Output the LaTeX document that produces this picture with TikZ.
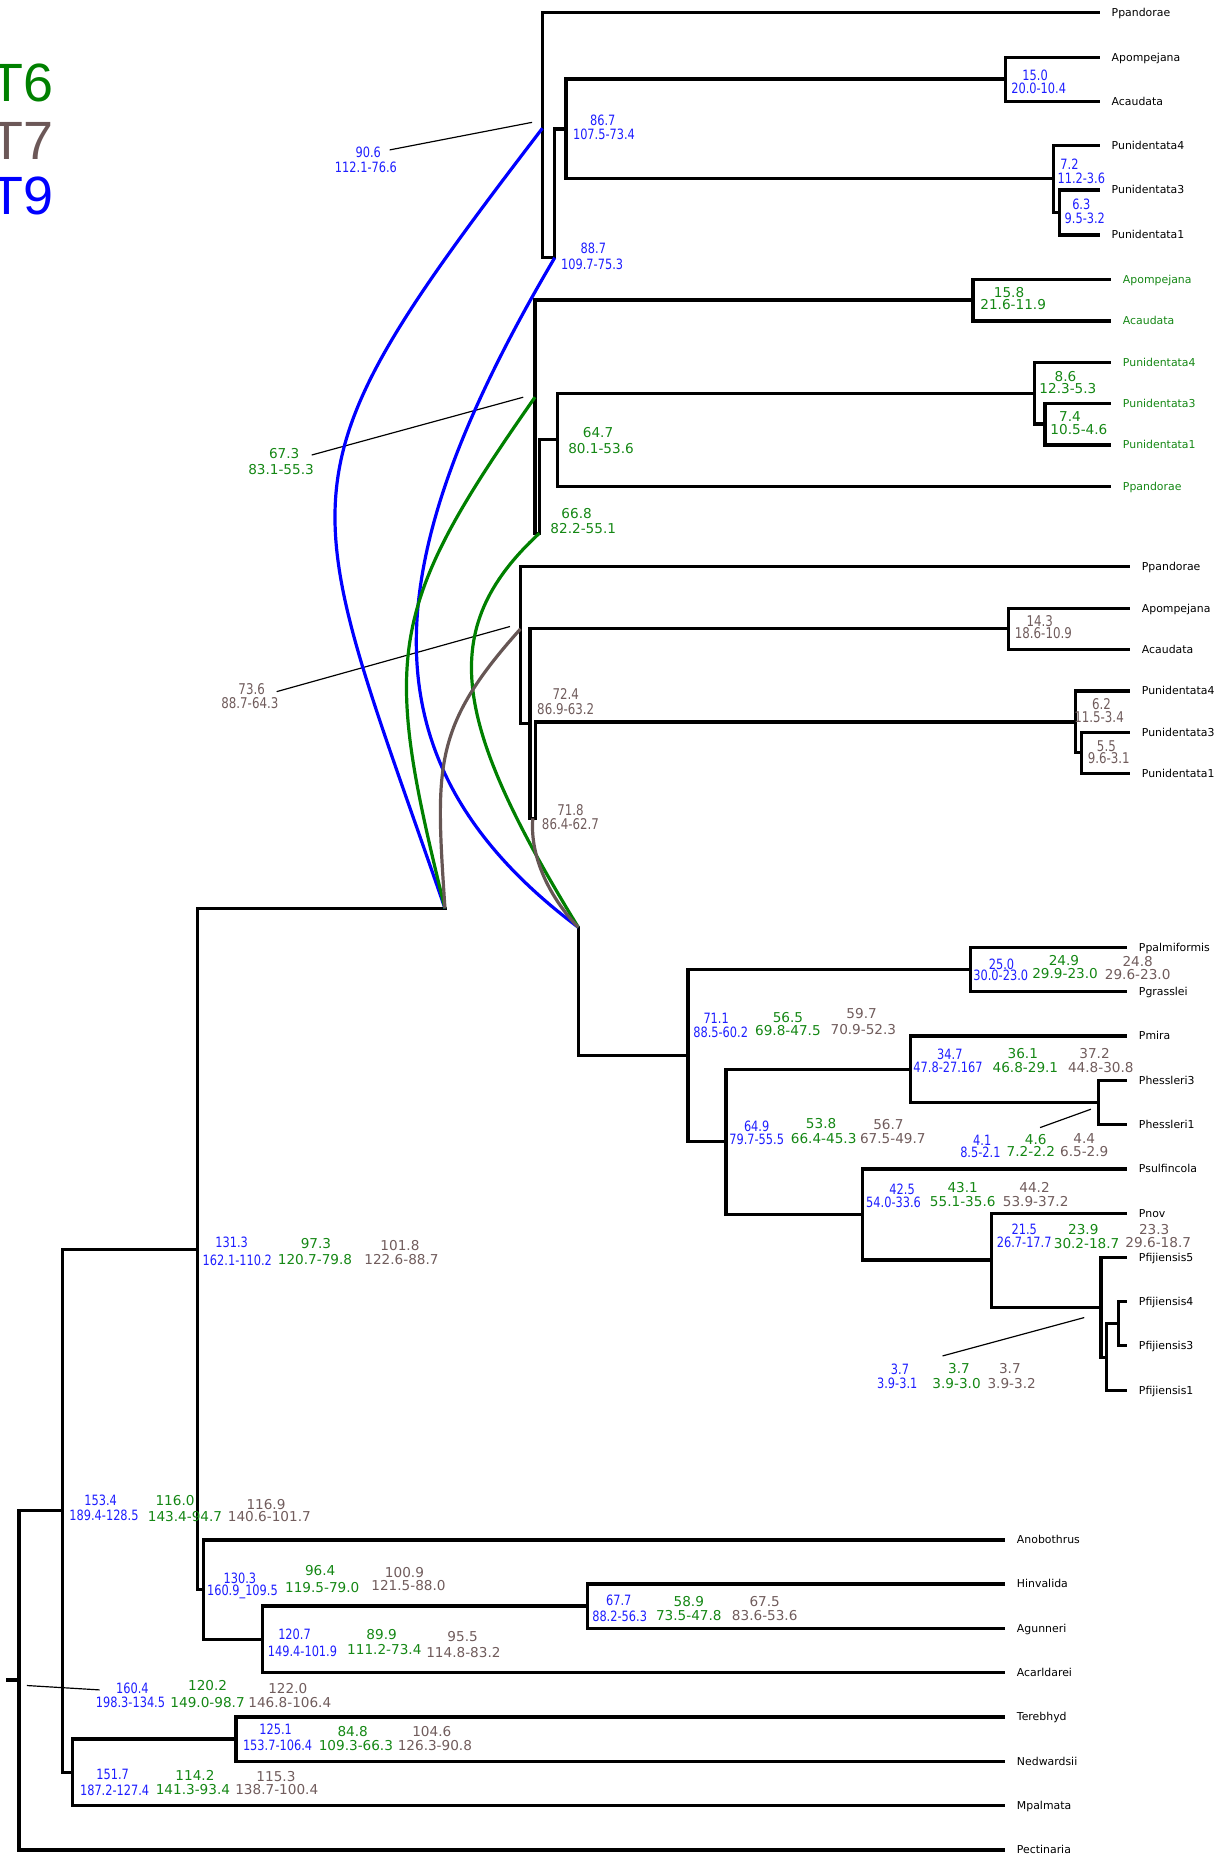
\documentclass[tikz,border=0pt]{standalone}
\usepackage{fontspec}
\setmainfont{DejaVu Sans}
\newfontfamily\condf[FakeStretch=0.8]{DejaVu Sans}
\newfontfamily\legf{Liberation Sans}
\definecolor{labblue}{RGB}{30,30,255}
\definecolor{labgreen}{RGB}{20,135,20}
\definecolor{labbrown}{RGB}{112,92,92}
\definecolor{cblue}{RGB}{0,0,255}
\definecolor{cgreen}{RGB}{0,128,0}
\definecolor{cbrown}{RGB}{102,86,84}
\definecolor{legbrown}{RGB}{108,88,88}
\tikzset{
  branch/.style={line width=2.8pt, line cap=rect, line join=miter},
  leader/.style={line width=1pt},
  hcurve/.style={line width=2.7pt},
  bl/.style={text=labblue, font=\condf\fontsize{12}{12}\selectfont, inner sep=0pt, text height=8.7pt, text depth=0pt},
  gr/.style={text=labgreen, font=\fontsize{11.5}{12}\selectfont, inner sep=0pt, text height=8.4pt, text depth=0pt},
  brn/.style={text=labbrown, font=\fontsize{11.5}{12}\selectfont, inner sep=0pt, text height=8.4pt, text depth=0pt},
  brc/.style={text=labbrown, font=\condf\fontsize{12.5}{12}\selectfont, inner sep=0pt, text height=9.1pt, text depth=0pt},
  taxon/.style={anchor=base west, inner sep=0pt, font=\fontsize{9.2}{9.5}\selectfont},
  legend/.style={anchor=base west, inner sep=0pt, font=\legf\fontsize{45.5}{46}\selectfont},
}
\begin{document}
\begin{tikzpicture}[x=1pt,y=-1pt]
\useasboundingbox (0,0) rectangle (1036,1568);

% ---------- legend ----------
\node[legend, text=cgreen] (legT6) at (-8,86) {T6};
\node[legend, text=legbrown] (legT7) at (-8,135) {T7};
\node[legend, text=cblue] (legT9) at (-8,181.5) {T9};

% ---------- T9 tree ----------
\coordinate (l9pp) at (927.5,10.7);
\coordinate (l9ap) at (927.5,48.4);
\coordinate (l9ac) at (927.5,85.8);
\coordinate (l9u4) at (927.5,123);
\coordinate (l9u3) at (927.5,160.4);
\coordinate (l9u1) at (927.5,198.4);
\coordinate (n9a) at (849,66.7);
\coordinate (n9b) at (889.4,151);
\coordinate (n9c) at (894.7,179.4);
\coordinate (c9) at (478,108.8);
\coordinate (m9) at (468.4,108.8);
\coordinate (s9) at (468.4,217.6);
\coordinate (r9) at (458,217.6);
\coordinate (e9o) at (458,108.3);
\draw[branch] (l9pp) -| (r9) -- (s9) -- (m9) -- (c9);
\draw[branch] (l9ap) -| (n9a) |- (l9ac);
\draw[branch] (n9a) -| (c9);
\draw[branch] (n9b) -| (c9);
\draw[branch] (l9u4) -| (n9b) |- (n9c);
\draw[branch] (l9u3) -| (n9c) |- (l9u1);
\node[taxon] (t9pp) at (938.5,14) {Ppandorae};
\node[taxon] (t9ap) at (938.5,51.7) {Apompejana};
\node[taxon] (t9ac) at (938.5,89.1) {Acaudata};
\node[taxon] (t9u4) at (938.5,126.3) {Punidentata4};
\node[taxon] (t9u3) at (938.5,163.7) {Punidentata3};
\node[taxon] (t9u1) at (938.5,201.7) {Punidentata1};
\node[bl] (b150) at (874,64) {15.0};
\node[bl] (b150r) at (877,74.6) {20.0-10.4};
\node[bl] (b867) at (509,102) {86.7};
\node[bl] (b867r) at (510,113.5) {107.5-73.4};
\node[bl] (b72) at (903,138.5) {7.2};
\node[bl] (b72r) at (913,151) {11.2-3.6};
\node[bl] (b63) at (913,172.5) {6.3};
\node[bl] (b63r) at (916,184.3) {9.5-3.2};
\node[bl] (b906) at (311,129) {90.6};
\node[bl] (b906r) at (309,141.5) {112.1-76.6};
\node[bl] (b887) at (501,210) {88.7};
\node[bl] (b887r) at (500,223.5) {109.7-75.3};
\coordinate (k906a) at (329,126.6);
\coordinate (k906b) at (449.3,103.3);
\draw[leader] (k906a) -- (k906b);

% ---------- T6 tree ----------
\coordinate (l6ap) at (937,235.8);
\coordinate (l6ac) at (937,271);
\coordinate (l6u4) at (937,306);
\coordinate (l6u3) at (937,340.5);
\coordinate (l6u1) at (937,375.7);
\coordinate (l6pp) at (937,411);
\coordinate (n6a) at (821.6,253.3);
\coordinate (n6b) at (873.4,332);
\coordinate (n6c) at (882.4,358.1);
\coordinate (n6d) at (470.6,371);
\coordinate (m6) at (455.4,371);
\coordinate (s6) at (455.4,450.3);
\coordinate (r6) at (451.7,450.3);
\coordinate (e6o) at (451.7,335.4);
\draw[branch] (l6ap) -| (n6a) |- (l6ac);
\draw[branch] (n6a) -| (r6) -- (s6) -- (m6) -- (n6d);
\draw[branch] (l6pp) -| (n6d) |- (n6b);
\draw[branch] (l6u4) -| (n6b) |- (n6c);
\draw[branch] (l6u3) -| (n6c) |- (l6u1);
\begin{scope}[every node/.append style={text=labgreen}]
\node[taxon] (t6ap) at (948,239.1) {Apompejana};
\node[taxon] (t6ac) at (948,274.3) {Acaudata};
\node[taxon] (t6u4) at (948,309.3) {Punidentata4};
\node[taxon] (t6u3) at (948,343.8) {Punidentata3};
\node[taxon] (t6u1) at (948,379) {Punidentata1};
\node[taxon] (t6pp) at (948,414.3) {Ppandorae};
\end{scope}
\node[gr] (g158) at (852,247) {15.8};
\node[gr] (g158r) at (855.5,257.5) {21.6-11.9};
\node[gr] (g86) at (899.6,318) {8.6};
\node[gr] (g86r) at (901.7,328.4) {12.3-5.3};
\node[gr] (g74) at (903.4,351.8) {7.4};
\node[gr] (g74r) at (911,362.5) {10.5-4.6};
\node[gr] (g647) at (505,365) {64.7};
\node[gr] (g647r) at (507.5,378.5) {80.1-53.6};
\node[gr] (g673) at (240,383.3) {67.3};
\node[gr] (g673r) at (237.3,396.8) {83.1-55.3};
\node[gr] (g668) at (486.9,434) {66.8};
\node[gr] (g668r) at (492.5,446) {82.2-55.1};
\coordinate (k673a) at (263.2,384.2);
\coordinate (k673b) at (441.8,335.4);
\draw[leader] (k673a) -- (k673b);

% ---------- T7 tree ----------
\coordinate (l7pp) at (952.4,478.4);
\coordinate (l7ap) at (952.4,513.6);
\coordinate (l7ac) at (952.4,548.2);
\coordinate (l7u4) at (952.4,583.4);
\coordinate (l7u3) at (952.4,618.3);
\coordinate (l7u1) at (952.4,653);
\coordinate (n7a) at (851.7,530.9);
\coordinate (n7b) at (908,609.5);
\coordinate (n7c) at (913.3,635.65);
\coordinate (r7) at (439.5,610.7);
\coordinate (s7) at (447.5,610.7);
\coordinate (b7) at (447.5,691);
\coordinate (q7) at (452.3,691);
\coordinate (b7m) at (449.9,691);
\coordinate (e7o) at (439.5,531);
\draw[branch] (l7pp) -| (r7) -- (s7);
\draw[branch] (n7a) -| (b7) -- (q7) |- (n7b);
\draw[branch] (l7ap) -| (n7a) |- (l7ac);
\draw[branch] (l7u4) -| (n7b) |- (n7c);
\draw[branch] (l7u3) -| (n7c) |- (l7u1);
\node[taxon] (t7pp) at (964,481.7) {Ppandorae};
\node[taxon] (t7ap) at (964,516.9) {Apompejana};
\node[taxon] (t7ac) at (964,551.5) {Acaudata};
\node[taxon] (t7u4) at (964,586.7) {Punidentata4};
\node[taxon] (t7u3) at (964,621.6) {Punidentata3};
\node[taxon] (t7u1) at (964,656.3) {Punidentata1};
\node[brc] (r143) at (878,524.3) {14.3};
\node[brc] (r143r) at (881,534.7) {18.6-10.9};
\node[brc] (r62) at (930,594.4) {6.2};
\node[brc] (r62r) at (928,605.1) {11.5-3.4};
\node[brc] (r55) at (934.2,629.6) {5.5};
\node[brc] (r55r) at (936.2,640.3) {9.6-3.1};
\node[brc] (r724) at (477.7,586) {72.4};
\node[brc] (r724r) at (477.7,598.9) {86.9-63.2};
\node[brc] (r718) at (481.7,683.9) {71.8};
\node[brc] (r718r) at (481.7,695.7) {86.4-62.7};
\node[brc] (r736) at (212.5,581.7) {73.6};
\node[brc] (r736r) at (211,593.3) {88.7-64.3};
\coordinate (k736a) at (233.6,584);
\coordinate (k736b) at (430.6,529);
\draw[leader] (k736a) -- (k736b);

% ---------- main tree ----------
\coordinate (j1) at (375.7,767);
\coordinate (j2) at (488.3,783);
\coordinate (rt) at (16,1275.5);
\coordinate (h1534) at (52.5,1275.5);
\coordinate (t1534) at (52.5,1054.8);
\coordinate (b1534) at (52.5,1496.7);
\coordinate (n1313h) at (166.6,1054.8);
\coordinate (a1313) at (166.6,1341.9);
\coordinate (n1303m) at (171.9,1341.9);
\coordinate (n1207m) at (221.4,1384.1);
\coordinate (n677m) at (495.8,1356.1);
\coordinate (n1517h) at (61.1,1496.7);
\coordinate (n1251m) at (199.3,1468.4);
\coordinate (stub) at (6.7,1418.4);
\coordinate (stubr) at (16,1418.4);
\coordinate (lano) at (847,1300.2);
\coordinate (lhin) at (847,1337.4);
\coordinate (lagu) at (847,1374.8);
\coordinate (lacar) at (847,1412.2);
\coordinate (lter) at (847,1449.7);
\coordinate (lned) at (847,1487.1);
\coordinate (lmpa) at (847,1524.5);
\coordinate (lpec) at (847,1562);

\draw[branch] (lpec) -| (rt) -- (h1534);
\draw[branch] (stub) -- (stubr);
\draw[branch] (n1313h) -- (t1534) -- (b1534) -- (n1517h);
\draw[branch] (j1) -| (a1313) -- (n1303m);
\draw[branch] (lano) -| (n1303m) |- (n1207m);
\draw[branch] (lacar) -| (n1207m) |- (n677m);
\draw[branch] (lhin) -| (n677m) |- (lagu);
\draw[branch] (lmpa) -| (n1517h) |- (n1251m);
\draw[branch] (lter) -| (n1251m) |- (lned);

\coordinate (p0) at (488.3,891.3);
\coordinate (n711m) at (580.8,891.3);
\coordinate (n250m) at (819.2,818.55);
\coordinate (n649m) at (613.1,963.9);
\coordinate (n347m) at (768.8,902.8);
\coordinate (n425m) at (728.4,1025.4);
\coordinate (nphm) at (927.3,931);
\coordinate (n215m) at (837.3,1063.8);
\coordinate (nfaM) at (929.6,1103.95);
\coordinate (nfbM) at (934.4,1146.3);
\coordinate (nfcM) at (944.2,1117.6);
\coordinate (lppa) at (949.8,799.8);
\coordinate (lpgr) at (949.8,837.3);
\coordinate (lpmi) at (949.8,874.7);
\coordinate (lph3) at (949.8,912.4);
\coordinate (lph1) at (949.8,949.6);
\coordinate (lpsu) at (949.8,987);
\coordinate (lpno) at (949.8,1024.4);
\coordinate (lpf5) at (949.8,1061.6);
\coordinate (lpf4) at (949.8,1099);
\coordinate (lpf3) at (949.8,1136.2);
\coordinate (lpf1) at (949.8,1174.2);

\draw[branch] (j2) -- (p0) -- (n711m);
\draw[branch] (lppa) -| (n250m) |- (lpgr);
\draw[branch] (n250m) -| (n711m) |- (n649m);
\draw[branch] (n347m) -| (n649m) |- (n425m);
\draw[branch] (lpmi) -| (n347m) |- (nphm);
\draw[branch] (lph3) -| (nphm) |- (lph1);
\draw[branch] (lpsu) -| (n425m) |- (n215m);
\draw[branch] (lpno) -| (n215m) |- (nfaM);
\draw[branch] (lpf5) -| (nfaM) |- (nfbM);
\draw[branch] (nfcM) -| (nfbM) |- (lpf1);
\draw[branch] (lpf4) -| (nfcM) |- (lpf3);

\node[taxon] (tppa) at (961.5,803.1) {Ppalmiformis};
\node[taxon] (tpgr) at (961.5,840.6) {Pgrasslei};
\node[taxon] (tpmi) at (961.5,878) {Pmira};
\node[taxon] (tph3) at (961.5,915.7) {Phessleri3};
\node[taxon] (tph1) at (961.5,952.9) {Phessleri1};
\node[taxon] (tpsu) at (961.5,990.3) {Psulfincola};
\node[taxon] (tpno) at (961.5,1027.7) {Pnov};
\node[taxon] (tpf5) at (961.5,1064.9) {Pfijiensis5};
\node[taxon] (tpf4) at (961.5,1102.3) {Pfijiensis4};
\node[taxon] (tpf3) at (961.5,1139.5) {Pfijiensis3};
\node[taxon] (tpf1) at (961.5,1177.5) {Pfijiensis1};
\node[taxon] (tano) at (858.5,1303.5) {Anobothrus};
\node[taxon] (thin) at (858.5,1340.7) {Hinvalida};
\node[taxon] (tagu) at (858.5,1378.1) {Agunneri};
\node[taxon] (tacar) at (858.5,1415.5) {Acarldarei};
\node[taxon] (tter) at (858.5,1453) {Terebhyd};
\node[taxon] (tned) at (858.5,1490.4) {Nedwardsii};
\node[taxon] (tmpa) at (858.5,1527.8) {Mpalmata};
\node[taxon] (tpec) at (858.5,1565.3) {Pectinaria};

% node ages: T9 / T6 / T7
\node[bl] at (845.6,813.9) {25.0};
\node[bl] at (845,823.2) {30.0-23.0};
\node[gr] at (898.4,811.4) {24.9};
\node[gr] at (899.3,822.4) {29.9-23.0};
\node[brn] at (960.6,812) {24.8};
\node[brn] at (960.6,823.2) {29.6-23.0};

\node[bl] at (604.7,859.8) {71.1};
\node[bl] at (608.5,871.9) {88.5-60.2};
\node[gr] at (665.3,858.9) {56.5};
\node[gr] at (665.3,870.5) {69.8-47.5};
\node[brn] at (727.5,855.5) {59.7};
\node[brn] at (729,869.6) {70.9-52.3};

\node[bl] at (802,889.9) {34.7};
\node[bl] at (800.5,901.4) {47.8-27.167};
\node[gr] at (863.6,889.9) {36.1};
\node[gr] at (865.8,901.4) {46.8-29.1};
\node[brn] at (924.2,889.9) {37.2};
\node[brn] at (929.5,901.4) {44.8-30.8};

\node[bl] at (638.9,951.3) {64.9};
\node[bl] at (638.9,961.7) {79.7-55.5};
\node[gr] at (693.3,949) {53.8};
\node[gr] at (695.5,961.7) {66.4-45.3};
\node[brn] at (750.2,949.8) {56.7};
\node[brn] at (753.9,961.7) {67.5-49.7};

\node[bl] at (829.4,962.5) {4.1};
\node[bl] at (827.8,972.9) {8.5-2.1};
\node[gr] at (874.5,961.8) {4.6};
\node[gr] at (870.4,972.5) {7.2-2.2};
\node[brn] at (915.5,961) {4.4};
\node[brn] at (915.5,972.5) {6.5-2.9};
\coordinate (kphA) at (878.2,952.1);
\coordinate (kphB) at (921.1,936.6);
\draw[leader] (kphA) -- (kphB);

\node[bl] at (761.7,1004.2) {42.5};
\node[bl] at (754.5,1015.4) {54.0-33.6};
\node[gr] at (812.9,1002.5) {43.1};
\node[gr] at (812.9,1014.6) {55.1-35.6};
\node[brn] at (873.5,1003) {44.2};
\node[brn] at (874.5,1014.6) {53.9-37.2};

\node[bl] at (864.8,1037.9) {21.5};
\node[bl] at (864.8,1049.2) {26.7-17.7};
\node[gr] at (914.7,1037.9) {23.9};
\node[gr] at (917.5,1049.7) {30.2-18.7};
\node[brn] at (974.6,1037.9) {23.3};
\node[brn] at (978,1049.2) {29.6-18.7};

\node[bl] at (759.9,1156.1) {3.7};
\node[bl] at (757.6,1168) {3.9-3.1};
\node[gr] at (809.7,1155.3) {3.7};
\node[gr] at (807.7,1168) {3.9-3.0};
\node[brn] at (852.7,1155.3) {3.7};
\node[brn] at (854.2,1168) {3.9-3.2};
\coordinate (kfiA) at (795.9,1144.9);
\coordinate (kfiB) at (915.5,1112.5);
\draw[leader] (kfiA) -- (kfiB);

\node[bl] at (195.6,1048.9) {131.3};
\node[bl] at (200.4,1064.4) {162.1-110.2};
\node[gr] at (266.8,1050.3) {97.3};
\node[gr] at (266,1063.8) {120.7-79.8};
\node[brn] at (337.7,1051.7) {101.8};
\node[brn] at (339,1063.5) {122.6-88.7};

\node[bl] at (85,1266.5) {153.4};
\node[bl] at (87.8,1279.7) {189.4-128.5};
\node[gr] at (147.8,1267.3) {116.0};
\node[gr] at (156.2,1280.5) {143.4-94.7};
\node[brn] at (224.6,1270.7) {116.9};
\node[brn] at (227.4,1280.5) {140.6-101.7};

\node[bl] at (202.6,1332.6) {130.3};
\node[bl] at (204.7,1343) {160.9\_109.5};
\node[gr] at (270.4,1326.4) {96.4};
\node[gr] at (272.1,1340.2) {119.5-79.0};
\node[brn] at (341.5,1327.8) {100.9};
\node[brn] at (344.9,1339.1) {121.5-88.0};

\node[bl] at (522.5,1350.9) {67.7};
\node[bl] at (523.2,1365) {88.2-56.3};
\node[gr] at (581.6,1352.3) {58.9};
\node[gr] at (581.6,1364.4) {73.5-47.8};
\node[brn] at (645.7,1352.3) {67.5};
\node[brn] at (645.7,1364.4) {83.6-53.6};

\node[bl] at (248.7,1380.4) {120.7};
\node[bl] at (255.4,1394.5) {149.4-101.9};
\node[gr] at (322.2,1380.4) {89.9};
\node[gr] at (324.5,1393.1) {111.2-73.4};
\node[brn] at (390.6,1381.8) {95.5};
\node[brn] at (391.3,1395) {114.8-83.2};

\node[bl] at (111.8,1425.5) {160.4};
\node[bl] at (110.2,1437.6) {198.3-134.5};
\node[gr] at (175.3,1423.5) {120.2};
\node[gr] at (175.3,1437.6) {149.0-98.7};
\node[brn] at (243,1425.5) {122.0};
\node[brn] at (244.7,1437.6) {146.8-106.4};
\coordinate (krtA) at (22.7,1423.2);
\coordinate (krtB) at (84.1,1426.9);
\draw[leader] (krtA) -- (krtB);

\node[bl] at (232.7,1460.6) {125.1};
\node[bl] at (234.4,1474.1) {153.7-106.4};
\node[gr] at (297.8,1462.1) {84.8};
\node[gr] at (300.5,1474.1) {109.3-66.3};
\node[brn] at (364.6,1462.1) {104.6};
\node[brn] at (367.2,1474.1) {126.3-90.8};

\node[bl] at (95.1,1498.6) {151.7};
\node[bl] at (96.8,1511.3) {187.2-127.4};
\node[gr] at (164.6,1499.5) {114.2};
\node[gr] at (162.9,1511.3) {141.3-93.4};
\node[brn] at (233,1500) {115.3};
\node[brn] at (233.7,1511.3) {138.7-100.4};

% ---------- branches shared between the three trees ----------
\draw[hcurve, cblue] (j1) .. controls (251.8,407.9) and (226.9,410) .. (e9o);
\draw[hcurve, cblue] (j2) .. controls (297.3,640) and (321.2,467.3) .. (s9);
\draw[hcurve, cgreen] (j1) .. controls (322.9,553.6) and (325.4,515.6) .. (e6o);
\draw[hcurve, cgreen] (j2) .. controls (383.1,610.8) and (367,532) .. (s6);
\draw[hcurve, cbrown] (j1) .. controls (367.9,647.2) and (364.7,614.4) .. (e7o);
\draw[hcurve, cbrown] (j2) .. controls (466,760) and (447,725) .. (b7m);
\end{tikzpicture}
\end{document}
